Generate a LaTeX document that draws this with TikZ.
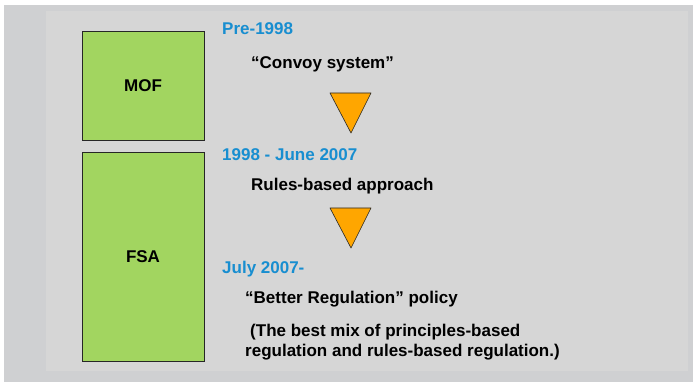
\documentclass[tikz,border=0pt]{standalone}
\usepackage{fontspec}
\setmainfont{Liberation Sans}
\usetikzlibrary{positioning}

\definecolor{outergray}{RGB}{207,208,210}
\definecolor{panelgray}{RGB}{214,214,214}
\definecolor{boxgreen}{RGB}{162,213,96}
\definecolor{erablue}{RGB}{24,142,208}
\definecolor{arroworange}{RGB}{255,166,0}

\tikzset{
  body/.style={draw=black!85, line width=0.8pt, fill=boxgreen, inner sep=0pt,
    font=\fontsize{17}{20}\selectfont\bfseries},
  era/.style={anchor=base west, inner sep=0pt, text=erablue,
    font=\fontsize{17}{20}\selectfont\bfseries},
  item/.style={anchor=base west, inner sep=0pt,
    font=\fontsize{17}{20}\selectfont\bfseries},
}

\begin{document}
\begin{tikzpicture}[x=1pt, y=-1pt]
  \useasboundingbox (0,0) rectangle (693,382);
  \fill[white] (0,0) rectangle (693,382);
  \fill[outergray] (4,5) rectangle (693,382);
  \fill[panelgray] (46,11) rectangle (688,371);

  % the two bodies
  \node[body, minimum width=122pt, minimum height=109pt] (mof) at (143,85.5) {MOF};
  \node[body, minimum width=122pt, minimum height=209pt] (fsa) at (143,256.5) {FSA};

  % eras
  \node[era] (pre) at (222,35) {Pre-1998};
  \node[item] (convoy) at (251,69) {``Convoy system''};
  \node[era] (mid) at (222,161) {1998 - June 2007};
  \node[item] (rules) at (251,190) {Rules-based approach};
  \node[era] (july) at (222,273) {July 2007-};
  \node[item] (better) at (245,303) {``Better Regulation'' policy};
  \node[item] (mix1) at (250,336) {(The best mix of principles-based};
  \node[item] (mix2) at (245,356) {regulation and rules-based regulation.)};

  % arrows between eras
  \foreach \t in {93,208}
    {\filldraw[fill=arroworange, draw=black!85, line width=0.6pt, line join=round]
      (330,\t) -- (371,\t) -- (351,\t+40) -- cycle;}
\end{tikzpicture}
\end{document}
